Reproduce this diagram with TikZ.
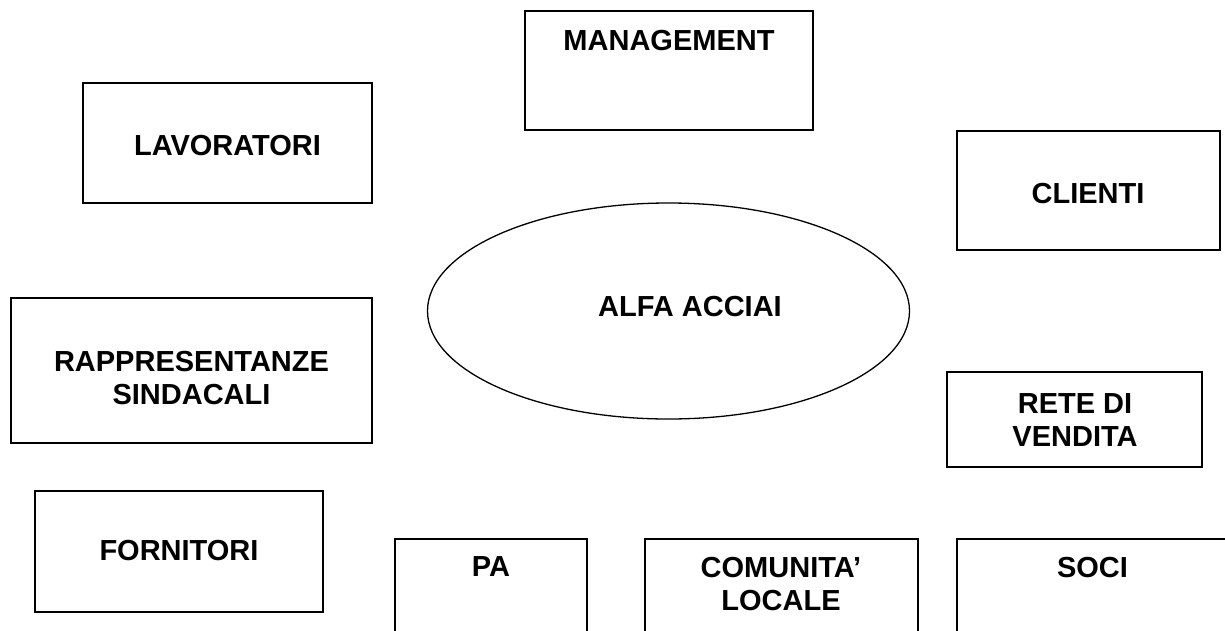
\documentclass[tikz,border=0pt]{standalone}
\usepackage{fontspec}
\setmainfont{Liberation Sans}
\usetikzlibrary{shapes.geometric}
\tikzset{
  box/.style={draw=black, line width=1.6pt, rectangle, inner sep=0pt, outer sep=0pt},
  oval/.style={draw=black, line width=1.3pt, ellipse, inner sep=0pt, outer sep=0pt},
  lbl/.style={inner sep=0pt, align=center, font=\fontsize{29}{33}\selectfont\bfseries}
}
\begin{document}
\begin{tikzpicture}[x=1pt, y=-1pt]
\useasboundingbox (0,0) rectangle (1225,630);
\clip (0,0) rectangle (1225,630);
\fill[white] (0,0) rectangle (1225,630);
% boxes
\node[box, minimum width=288pt, minimum height=119pt] (man) at (669,70.5) {};
\node[box, minimum width=289pt, minimum height=120pt] (lav) at (227.5,143) {};
\node[box, minimum width=263pt, minimum height=119pt] (cli) at (1088.5,190.5) {};
\node[box, minimum width=361pt, minimum height=145pt] (rap) at (191.5,370.5) {};
\node[box, minimum width=255pt, minimum height=95pt] (ret) at (1074.5,419.5) {};
\node[box, minimum width=288pt, minimum height=121pt] (for) at (179,551.5) {};
\node[box, minimum width=192pt, minimum height=200pt] (pa) at (491,639) {};
\node[box, minimum width=273pt, minimum height=200pt] (com) at (781.5,639) {};
\node[box, minimum width=271pt, minimum height=200pt] (soc) at (1092.5,639) {};
\node[oval, minimum width=482pt, minimum height=216pt] (alfa) at (668.5,311) {};
% labels
\node[lbl] (tman) at (669,41) {MANAGEMENT};
\node[lbl] (tlav) at (227.5,146) {LAVORATORI};
\node[lbl] (tcli) at (1088,194) {CLIENTI};
\node[lbl] (talfa) at (690,307) {ALFA ACCIAI};
\node[lbl] (trap) at (191.5,378) {RAPPRESENTANZE\\SINDACALI};
\node[lbl] (tret) at (1075,420) {RETE DI\\VENDITA};
\node[lbl] (tfor) at (179,551) {FORNITORI};
\node[lbl] (tpa) at (491,567) {PA};
\node[lbl] (tcom) at (781,584.5) {COMUNITA’\\LOCALE};
\node[lbl] (tsoc) at (1092.5,567.5) {SOCI};
\end{tikzpicture}
\end{document}
